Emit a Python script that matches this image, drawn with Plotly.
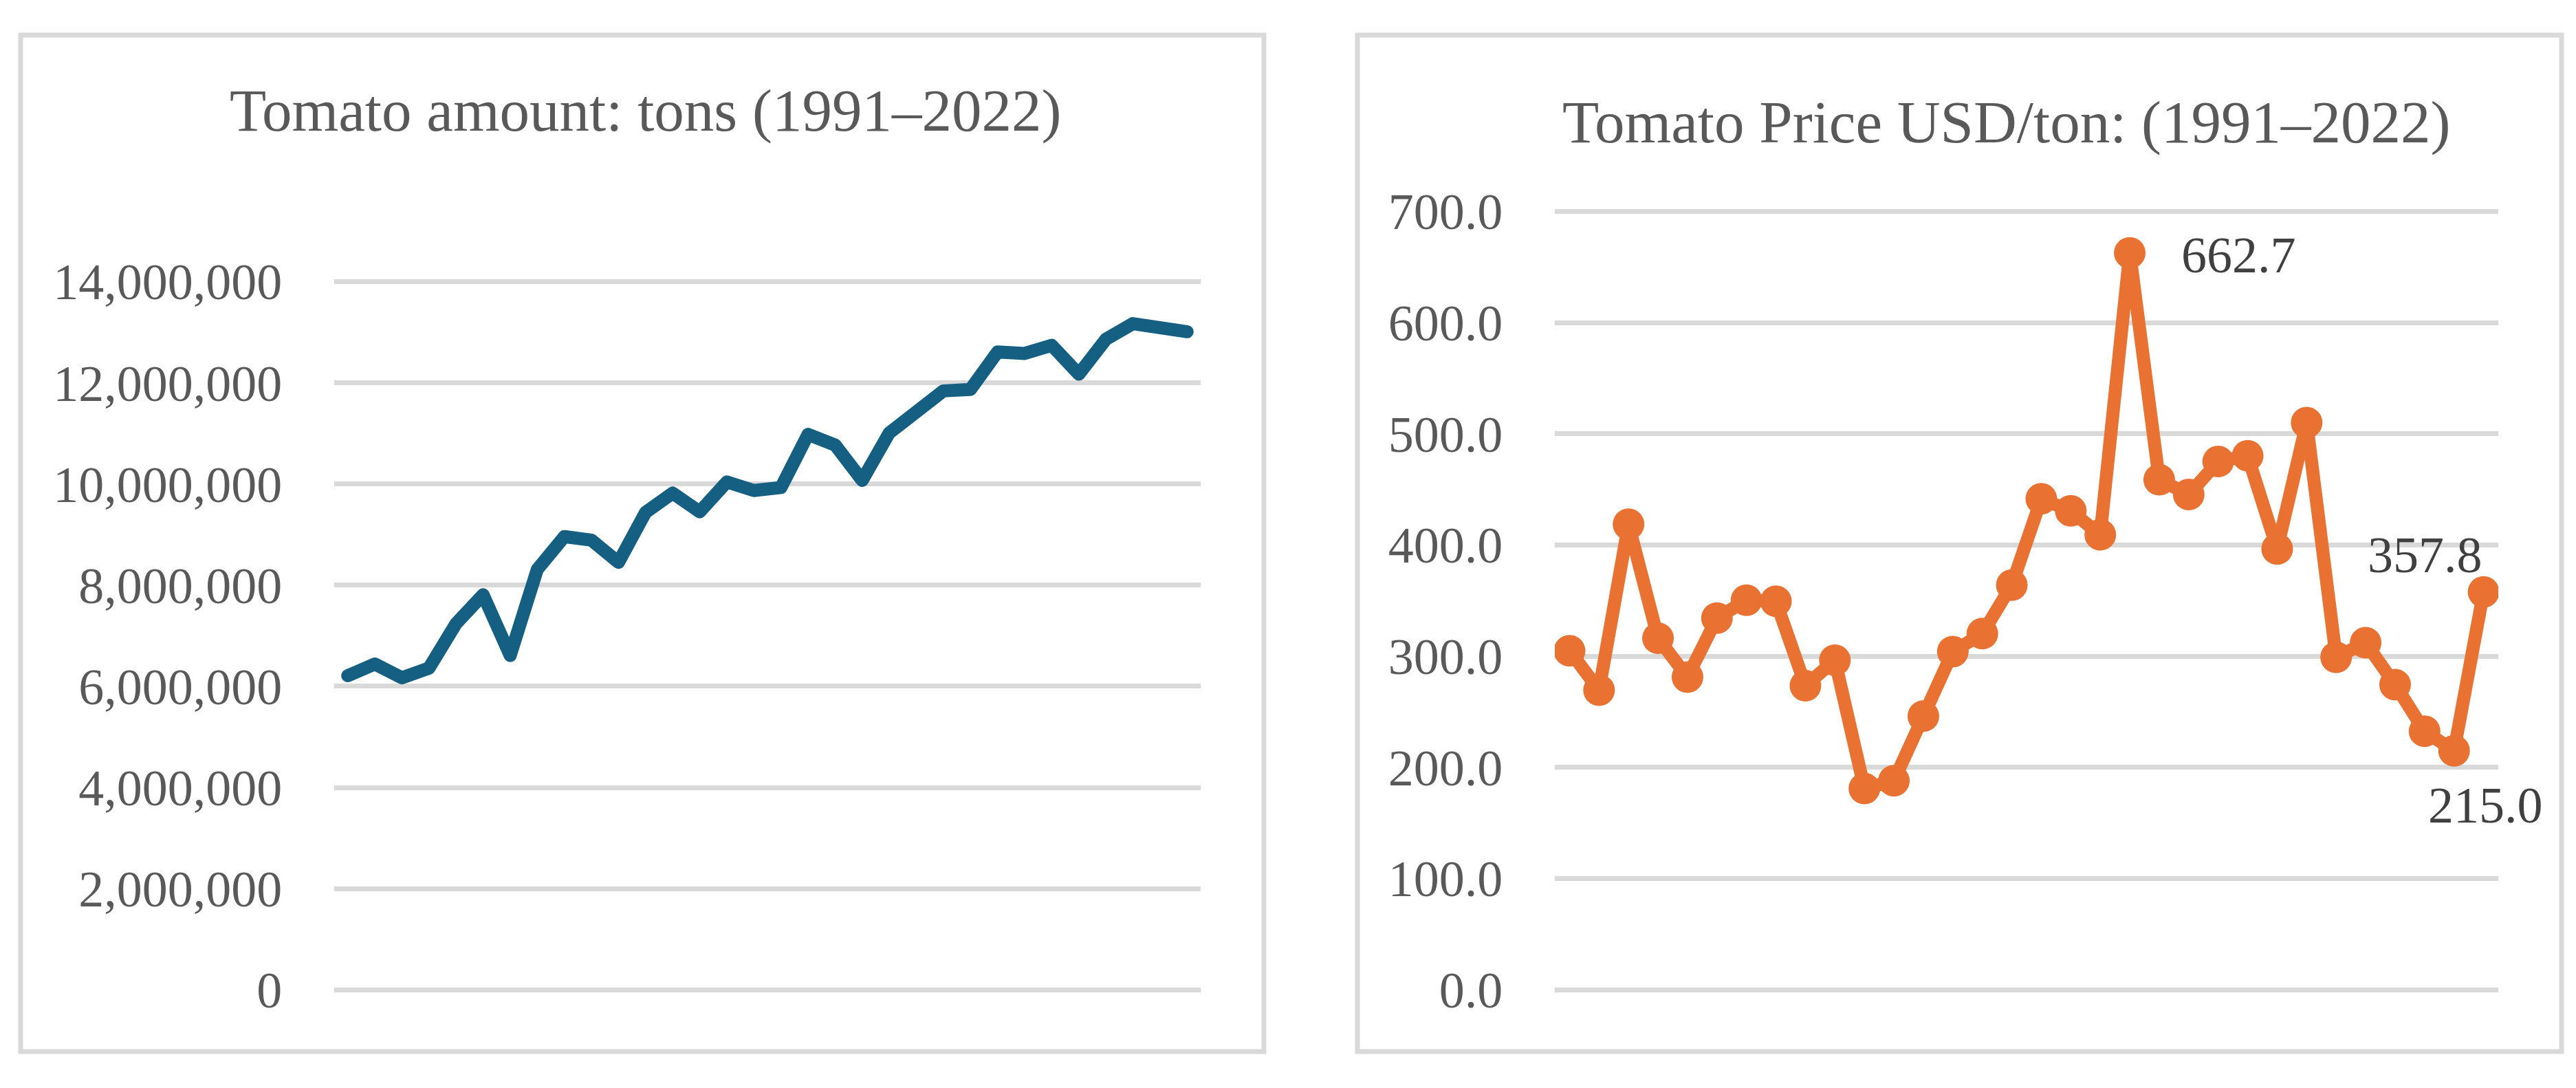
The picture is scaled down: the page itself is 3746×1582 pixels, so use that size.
import plotly.graph_objects as go

years = list(range(1991, 2023))

amount_tons = [6.21e6, 6.44e6, 6.17e6, 6.36e6, 7.24e6, 7.81e6, 6.61e6, 8.31e6,
               8.96e6, 8.89e6, 8.45e6, 9.44e6, 9.82e6, 9.45e6, 10.04e6, 9.87e6,
               9.93e6, 10.98e6, 10.77e6, 10.07e6, 11.01e6, 11.40e6, 11.84e6, 11.87e6,
               12.61e6, 12.58e6, 12.74e6, 12.17e6, 12.86e6, 13.17e6, 13.09e6, 13.01e6]

price_usd = [304.9, 269.5, 418.7, 316.2, 281.3, 334.3, 350.4, 349.4,
             273.5, 296.4, 181.1, 188.0, 246.1, 304.2, 320.3, 364.0,
             441.6, 430.7, 409.2, 662.7, 458.7, 445.4, 475.1, 480.2,
             396.5, 510.0, 299.1, 312.1, 274.5, 232.5, 215.0, 357.8]

amount_ticks = [0, 2e6, 4e6, 6e6, 8e6, 10e6, 12e6, 14e6]
price_ticks = [0, 100, 200, 300, 400, 500, 600, 700]

title_left = "Tomato amount: tons (1991–2022)"
title_right = "Tomato Price USD/ton: (1991–2022)"

# indices of the labelled points and their label offsets (px)
label_points = [(19, 73, -3, "left"), (31, -85, 54, "center"), (30, 46, -79, "center")]

W, H = 3746, 1582
FONT = "Times New Roman, Liberation Serif, serif"
BLUE = "#156082"
ORANGE = "#E97132"
GRID = "#D9D9D9"
TXT = "#595959"
PAD = 12  # px of extra axis range so edge gridlines are drawn

fig = go.Figure()
fig.add_trace(go.Scatter(x=years, y=amount_tons, mode="lines",
                         line=dict(color=BLUE, width=19),
                         xaxis="x", yaxis="y", hoverinfo="skip"))
fig.add_trace(go.Scatter(x=years, y=price_usd, mode="lines+markers",
                         line=dict(color=ORANGE, width=19),
                         marker=dict(size=46, color=ORANGE, line=dict(width=0)),
                         xaxis="x2", yaxis="y2", hoverinfo="skip"))

def px_x(v):
    return v / W

def px_y(v):
    return 1 - v / H

xcommon = dict(range=[1990.5, 2022.5], showgrid=False, showticklabels=False,
               zeroline=False, showline=False, ticks="", fixedrange=True)
ycommon = dict(showgrid=True, gridcolor=GRID, gridwidth=7, zeroline=False,
               showline=False, ticks="outside", ticklen=60,
               tickcolor="rgba(0,0,0,0)", tickfont=dict(family=FONT, size=74, color=TXT),
               fixedrange=True)

# pixel geometry of the plot areas (zero line at 1465 px, tops at 396 / 290 px)
l_top, r_top, base = 396, 290, 1465
l_unit = amount_ticks[-1] / (base - l_top)
r_unit = price_ticks[-1] / (base - r_top)

fig.update_layout(
    width=W, height=H,
    margin=dict(l=0, r=0, t=0, b=0, pad=0),
    paper_bgcolor="white", plot_bgcolor="white",
    showlegend=False,
    xaxis=dict(domain=[px_x(486), px_x(1746)], anchor="y", **xcommon),
    yaxis=dict(domain=[px_y(base + PAD), px_y(l_top - PAD)], anchor="x",
               range=[-PAD * l_unit, amount_ticks[-1] + PAD * l_unit], tickvals=amount_ticks,
               ticktext=[f"{v:,.0f}" for v in amount_ticks], **ycommon),
    xaxis2=dict(domain=[px_x(2261), px_x(3633)], anchor="y2", **xcommon),
    yaxis2=dict(domain=[px_y(base + PAD), px_y(r_top - PAD)], anchor="x2",
                range=[-PAD * r_unit, price_ticks[-1] + PAD * r_unit], tickvals=price_ticks,
                ticktext=[f"{v:.1f}" for v in price_ticks], **ycommon),
)

# chart borders
for x0, x1 in [(30, 1838), (1974, 3725)]:
    fig.add_shape(type="rect", xref="paper", yref="paper",
                  x0=px_x(x0), x1=px_x(x1), y0=px_y(1558), y1=px_y(24),
                  line=dict(color=GRID, width=7), fillcolor="rgba(0,0,0,0)", layer="below")

# titles
fig.add_annotation(text=title_left, xref="paper", yref="paper", x=px_x(938), y=px_y(137.5),
                   xanchor="center", yanchor="middle", showarrow=False,
                   font=dict(family=FONT, size=87, color=TXT))
fig.add_annotation(text=title_right, xref="paper", yref="paper", x=px_x(2918), y=px_y(155),
                   xanchor="center", yanchor="middle", showarrow=False,
                   font=dict(family=FONT, size=87, color=TXT))

# data labels
for idx, dx, dy, anchor in label_points:
    fig.add_annotation(text=f"{price_usd[idx]:.1f}", xref="x2", yref="y2",
                       x=years[idx], y=price_usd[idx], xshift=dx, yshift=dy,
                       xanchor=anchor, yanchor="middle", showarrow=False,
                       font=dict(family=FONT, size=74, color="#404040"))

post = ("document.body.style.margin='0';document.body.style.overflow='hidden';"
        "var gd=document.getElementById('{plot_id}');"
        "gd.querySelectorAll('path.js-line').forEach(function(p){"
        "p.style.strokeLinejoin='round';p.style.strokeLinecap='round';});")

fig.write_html("out.html", config={"displayModeBar": False}, post_script=post)
